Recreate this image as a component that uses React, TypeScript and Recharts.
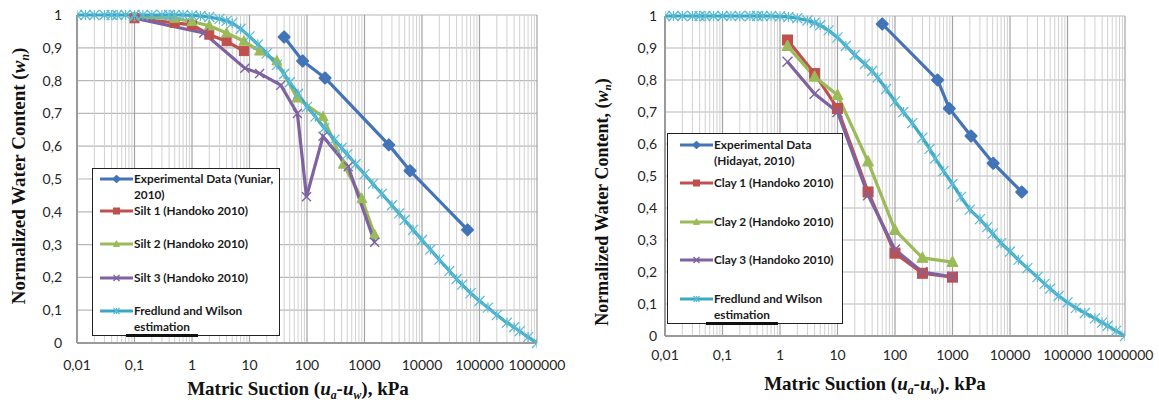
import React from 'react';
import { LineChart, Line, XAxis, YAxis, CartesianGrid, ReferenceLine, Legend } from 'recharts';

// ---------- axis ticks ----------
const xTicks = [0.01, 0.1, 1, 10, 100, 1000, 10000, 100000, 1000000];
const xTickLabels = ['0,01', '0,1', '1', '10', '100', '1000', '10000', '100000', '1000000'];
const yTicks = [0, 0.1, 0.2, 0.3, 0.4, 0.5, 0.6, 0.7, 0.8, 0.9, 1];
const yTickLabels = ['0', '0,1', '0,2', '0,3', '0,4', '0,5', '0,6', '0,7', '0,8', '0,9', '1'];

// ---------- left chart (silts) ----------
const yuniarX = [40, 84, 206, 2650, 6200, 62000];
const yuniarY = [0.933, 0.86, 0.808, 0.604, 0.525, 0.345];

const silt1X = [0.1, 0.5, 1, 2, 4, 8];
const silt1Y = [0.99, 0.976, 0.97, 0.94, 0.92, 0.89];

const silt2X = [0.1, 0.5, 1, 2, 4, 8, 15, 30, 67, 190, 430, 900, 1500];
const silt2Y = [0.995, 0.99, 0.98, 0.967, 0.945, 0.92, 0.89, 0.86, 0.747, 0.69, 0.545, 0.44, 0.33];

const silt3X = [0.1, 1.6, 8.3, 15, 35, 68, 98, 190, 520, 1500];
const silt3Y = [0.99, 0.945, 0.838, 0.822, 0.786, 0.7, 0.446, 0.63, 0.537, 0.307];

// Fredlund & Wilson estimation (both charts share suction values)
const fwX = [
  0.01, 0.014, 0.02, 0.03, 0.04, 0.05, 0.07,
  0.1, 0.14, 0.2, 0.3, 0.4, 0.5, 0.7,
  1, 1.4, 2, 3, 4, 5, 7,
  10, 14, 20, 30, 40, 50, 70,
  100, 140, 200, 300, 400, 500, 700,
  1000, 1400, 2000, 3000, 4000, 5000, 7000,
  10000, 14000, 20000, 30000, 40000, 50000, 70000,
  100000, 140000, 200000, 300000, 400000, 500000, 700000,
  1000000,
];
const fwLeftY = [
  1, 1, 1, 1, 1, 1, 1,
  1, 1, 1, 1, 1, 1, 1,
  0.999, 0.997, 0.994, 0.988, 0.982, 0.975, 0.958,
  0.935, 0.91, 0.883, 0.848, 0.82, 0.795, 0.76,
  0.72, 0.69, 0.655, 0.62, 0.595, 0.575, 0.545,
  0.515, 0.485, 0.455, 0.42, 0.395, 0.375, 0.345,
  0.314, 0.285, 0.254, 0.22, 0.195, 0.178, 0.152,
  0.128, 0.108, 0.085, 0.062, 0.048, 0.036, 0.018,
  0,
];

// ---------- right chart (clays) ----------
const hidayatX = [60, 550, 880, 2100, 5100, 16000];
const hidayatY = [0.975, 0.8, 0.711, 0.625, 0.54, 0.45];

const clayX = [1.35, 4, 10, 34, 100, 300, 1000];
const clay1Y = [0.925, 0.82, 0.711, 0.45, 0.259, 0.196, 0.184];
const clay2Y = [0.906, 0.81, 0.753, 0.545, 0.331, 0.244, 0.231];
const clay3Y = [0.857, 0.757, 0.7, 0.44, 0.27, 0.2, 0.185];

const fwRightY = [
  1, 1, 1, 1, 1, 1, 1,
  1, 1, 1, 1, 1, 1, 1,
  0.999, 0.997, 0.993, 0.986, 0.979, 0.971, 0.955,
  0.933, 0.907, 0.878, 0.85, 0.828, 0.808, 0.772,
  0.733, 0.7, 0.665, 0.62, 0.585, 0.555, 0.515,
  0.475, 0.435, 0.395, 0.365, 0.34, 0.32, 0.29,
  0.264, 0.238, 0.212, 0.184, 0.163, 0.148, 0.125,
  0.105, 0.088, 0.072, 0.055, 0.042, 0.032, 0.016,
  0,
];

const leftLabels = ['Experimental Data (Yuniar,\n2010)', 'Silt 1 (Handoko 2010)', 'Silt 2 (Handoko 2010)', 'Silt 3 (Handoko 2010)', 'Fredlund and Wilson\nestimation'];
const rightLabels = ['Experimental Data\n(Hidayat, 2010)', 'Clay 1 (Handoko 2010)', 'Clay 2 (Handoko 2010)', 'Clay 3 (Handoko 2010)', 'Fredlund and Wilson\nestimation'];

// ---------- styling ----------
const C = {
  blue: '#4274B7',
  red: '#C0504D',
  green: '#9BBB59',
  purple: '#7F63A1',
  cyan: '#3AA8C5',
  cyanMk: '#5BBAD3',
};

type Shape = 'diamond' | 'square' | 'triangle' | 'cross' | 'star';

const zip = (xs: number[], ys: number[]) => xs.map((x, i) => ({ x, y: ys[i] }));

function markerEl(shape: Shape, cx: number, cy: number, color: string, s: number, key?: string) {
  switch (shape) {
    case 'diamond':
      return (
        <polygon key={key} points={`${cx},${cy - s} ${cx + s},${cy} ${cx},${cy + s} ${cx - s},${cy}`}
          fill={color} stroke={color} strokeWidth={2} strokeLinejoin="round" />
      );
    case 'square':
      return <rect key={key} x={cx - s} y={cy - s} width={2 * s} height={2 * s} fill={color} stroke={color} strokeWidth={1} />;
    case 'triangle':
      return (
        <polygon key={key} points={`${cx},${cy - s * 1.1} ${cx + s},${cy + s * 0.8} ${cx - s},${cy + s * 0.8}`}
          fill={color} stroke={color} strokeWidth={1} />
      );
    case 'cross':
      return (
        <g key={key} stroke={color} strokeWidth={1.4}>
          <line x1={cx - s} y1={cy - s} x2={cx + s} y2={cy + s} />
          <line x1={cx - s} y1={cy + s} x2={cx + s} y2={cy - s} />
        </g>
      );
    case 'star':
    default:
      return (
        <g key={key} stroke={color} strokeWidth={1.2}>
          <line x1={cx - s} y1={cy - s} x2={cx + s} y2={cy + s} />
          <line x1={cx - s} y1={cy + s} x2={cx + s} y2={cy - s} />
          <line x1={cx} y1={cy - s} x2={cx} y2={cy + s} />
        </g>
      );
  }
}

const makeDot = (shape: Shape, color: string, s: number) => (props: any) => {
  const { cx, cy, index } = props;
  const key = `${shape}-${color}-${index}`;
  if (cx == null || cy == null || isNaN(cx) || isNaN(cy)) return <g key={key} />;
  return markerEl(shape, cx, cy, color, s, key);
};

type Series = { name: string; data: { x: number; y: number }[]; color: string; mk: string; shape: Shape; size: number };

const leftSeries: Series[] = [
  { name: leftLabels[0], data: zip(yuniarX, yuniarY), color: C.blue, mk: C.blue, shape: 'diamond', size: 5.5 },
  { name: leftLabels[1], data: zip(silt1X, silt1Y), color: C.red, mk: C.red, shape: 'square', size: 4.5 },
  { name: leftLabels[2], data: zip(silt2X, silt2Y), color: C.green, mk: C.green, shape: 'triangle', size: 5 },
  { name: leftLabels[3], data: zip(silt3X, silt3Y), color: C.purple, mk: C.purple, shape: 'cross', size: 4.5 },
  { name: leftLabels[4], data: zip(fwX, fwLeftY), color: C.cyan, mk: C.cyanMk, shape: 'star', size: 5 },
];

const rightSeries: Series[] = [
  { name: rightLabels[0], data: zip(hidayatX, hidayatY), color: C.blue, mk: C.blue, shape: 'diamond', size: 5.5 },
  { name: rightLabels[1], data: zip(clayX, clay1Y), color: C.red, mk: C.red, shape: 'square', size: 5 },
  { name: rightLabels[2], data: zip(clayX, clay2Y), color: C.green, mk: C.green, shape: 'triangle', size: 5.5 },
  { name: rightLabels[3], data: zip(clayX, clay3Y), color: C.purple, mk: C.purple, shape: 'cross', size: 5 },
  { name: rightLabels[4], data: zip(fwX, fwRightY), color: C.cyan, mk: C.cyanMk, shape: 'star', size: 5 },
];

const minorX: number[] = [];
for (let e = -2; e <= 5; e++) {
  for (let m = 2; m <= 9; m++) minorX.push(m * Math.pow(10, e));
}

const tickFont = { fontFamily: 'Lato, "Open Sans", sans-serif', fontSize: 14, fill: '#262626' };

function LegendBox({ series, entryTops, sampleLeft, textLeft, width, height, lineH, barLeft, barWidth }: any) {
  return (
    <div style={{ position: 'relative', width, height, background: '#fff', border: '1px solid #222', boxSizing: 'border-box' }}>
      {series.map((s: Series, i: number) => (
        <div key={i} style={{ position: 'absolute', left: 0, top: entryTops[i] }}>
          <svg width={34} height={12} style={{ position: 'absolute', left: sampleLeft, top: -6 }}>
            <line x1={0} y1={6} x2={33} y2={6} stroke={s.color} strokeWidth={3} />
            {markerEl(s.shape, 16.5, 6, s.mk, 3)}
          </svg>
          <div style={{
            position: 'absolute', left: textLeft, top: -lineH / 2, whiteSpace: 'pre', lineHeight: `${lineH}px`,
            fontFamily: 'Lato, "Open Sans", sans-serif', fontWeight: 700, fontSize: 11.8, color: '#1a1a1a',
          }}>{s.name}</div>
        </div>
      ))}
      <div style={{ position: 'absolute', left: barLeft, width: barWidth, bottom: -2, height: 3, background: '#111' }} />
    </div>
  );
}

function Chart({ series, width, height, margin, yAxisWidth, xTickMargin, yTickMargin, legend }: any) {
  return (
    <LineChart width={width} height={height} margin={margin}>
      <CartesianGrid vertical={false} stroke="#b8b8b8" strokeWidth={1.2} />
      {minorX.map((v) => (
        <ReferenceLine key={`mn-${v}`} x={v} stroke="#d0d0d0" strokeWidth={1} ifOverflow="visible" />
      ))}
      {xTicks.slice(1).map((v) => (
        <ReferenceLine key={`mj-${v}`} x={v} stroke="#a3a3a3" strokeWidth={1.2} ifOverflow="visible" />
      ))}
      <XAxis
        type="number" dataKey="x" scale="log" domain={[0.01, 1000000]} ticks={xTicks} interval={0}
        allowDataOverflow tickFormatter={(v: number) => xTickLabels[xTicks.indexOf(v)] ?? String(v)}
        tick={tickFont} tickLine={false} tickSize={0} tickMargin={xTickMargin}
        axisLine={{ stroke: '#9a9a9a', strokeWidth: 2 }} height={60}
      />
      <YAxis
        type="number" dataKey="y" domain={[0, 1]} ticks={yTicks} interval={0} width={yAxisWidth}
        tickFormatter={(v: number) => yTickLabels[yTicks.findIndex((t) => Math.abs(t - v) < 1e-9)] ?? String(v)}
        tick={tickFont} tickLine={false} tickSize={0} tickMargin={yTickMargin}
        axisLine={{ stroke: '#9a9a9a', strokeWidth: 2 }}
      />
      {series.map((s: Series) => (
        <Line key={s.name} data={s.data} dataKey="y" name={s.name} type="linear" stroke={s.color} strokeWidth={3.2}
          dot={makeDot(s.shape, s.mk, s.size)} activeDot={false} isAnimationActive={false} legendType="none" />
      ))}
      <Legend layout="vertical" align="center" verticalAlign="middle"
        wrapperStyle={{ left: legend.left, top: legend.top, width: legend.width, height: legend.height, bottom: 'auto', right: 'auto' }}
        content={() => <LegendBox series={series} {...legend} />} />
    </LineChart>
  );
}

const serif = '"Liberation Serif", "Times New Roman", serif';
const sub = { fontSize: '0.62em', position: 'relative' as const, top: '0.3em', fontStyle: 'italic' as const };

export default function App() {
  return (
    <div style={{ position: 'absolute', left: 0, top: 0, width: 1159, height: 404, background: '#fff', overflow: 'hidden' }}>
      {/* left chart */}
      <div style={{ position: 'absolute', left: 0, top: 0 }}>
        <Chart
          series={leftSeries} width={580} height={404}
          margin={{ top: 15, right: 43, left: 0, bottom: 1 }}
          yAxisWidth={77} xTickMargin={17} yTickMargin={15}
          legend={{ left: 92, top: 168, width: 188, height: 168, entryTops: [10, 42, 75, 109, 142], sampleLeft: 7, textLeft: 41, lineH: 16, barLeft: 33, barWidth: 72 }}
        />
      </div>
      {/* right chart */}
      <div style={{ position: 'absolute', left: 580, top: 0 }}>
        <Chart
          series={rightSeries} width={579} height={404}
          margin={{ top: 16, right: 34, left: 0, bottom: 8 }}
          yAxisWidth={85} xTickMargin={14} yTickMargin={8}
          legend={{ left: 87, top: 133, width: 176, height: 191, entryTops: [11, 49, 88, 126, 165], sampleLeft: 12, textLeft: 46, lineH: 16, barLeft: 38, barWidth: 72 }}
        />
      </div>

      {/* axis titles */}
      <div style={{ position: 'absolute', left: 298, top: 378, transform: 'translateX(-50%)', whiteSpace: 'nowrap', fontFamily: serif, fontWeight: 700, fontSize: 19, lineHeight: '22px', color: '#111' }}>
        Matric Suction (<i>u</i><span style={sub}>a</span>-<i>u</i><span style={sub}>w</span>), kPa
      </div>
      <div style={{ position: 'absolute', left: 875, top: 373, transform: 'translateX(-50%)', whiteSpace: 'nowrap', fontFamily: serif, fontWeight: 700, fontSize: 19, lineHeight: '22px', color: '#111' }}>
        Matric Suction (<i>u</i><span style={sub}>a</span>-<i>u</i><span style={sub}>w</span>). kPa
      </div>
      <div style={{ position: 'absolute', left: 20, top: 176, transform: 'translate(-50%, -50%) rotate(-90deg)', whiteSpace: 'nowrap', fontFamily: serif, fontWeight: 700, fontSize: 19, lineHeight: '22px', color: '#111' }}>
        Normalized Water Content (<i>w</i><span style={sub}>n</span>)
      </div>
      <div style={{ position: 'absolute', left: 603, top: 202, transform: 'translate(-50%, -50%) rotate(-90deg)', whiteSpace: 'nowrap', fontFamily: serif, fontWeight: 700, fontSize: 18, lineHeight: '21px', color: '#111' }}>
        Normalized Water Content, (<i>w</i><span style={sub}>n</span>)
      </div>
    </div>
  );
}
